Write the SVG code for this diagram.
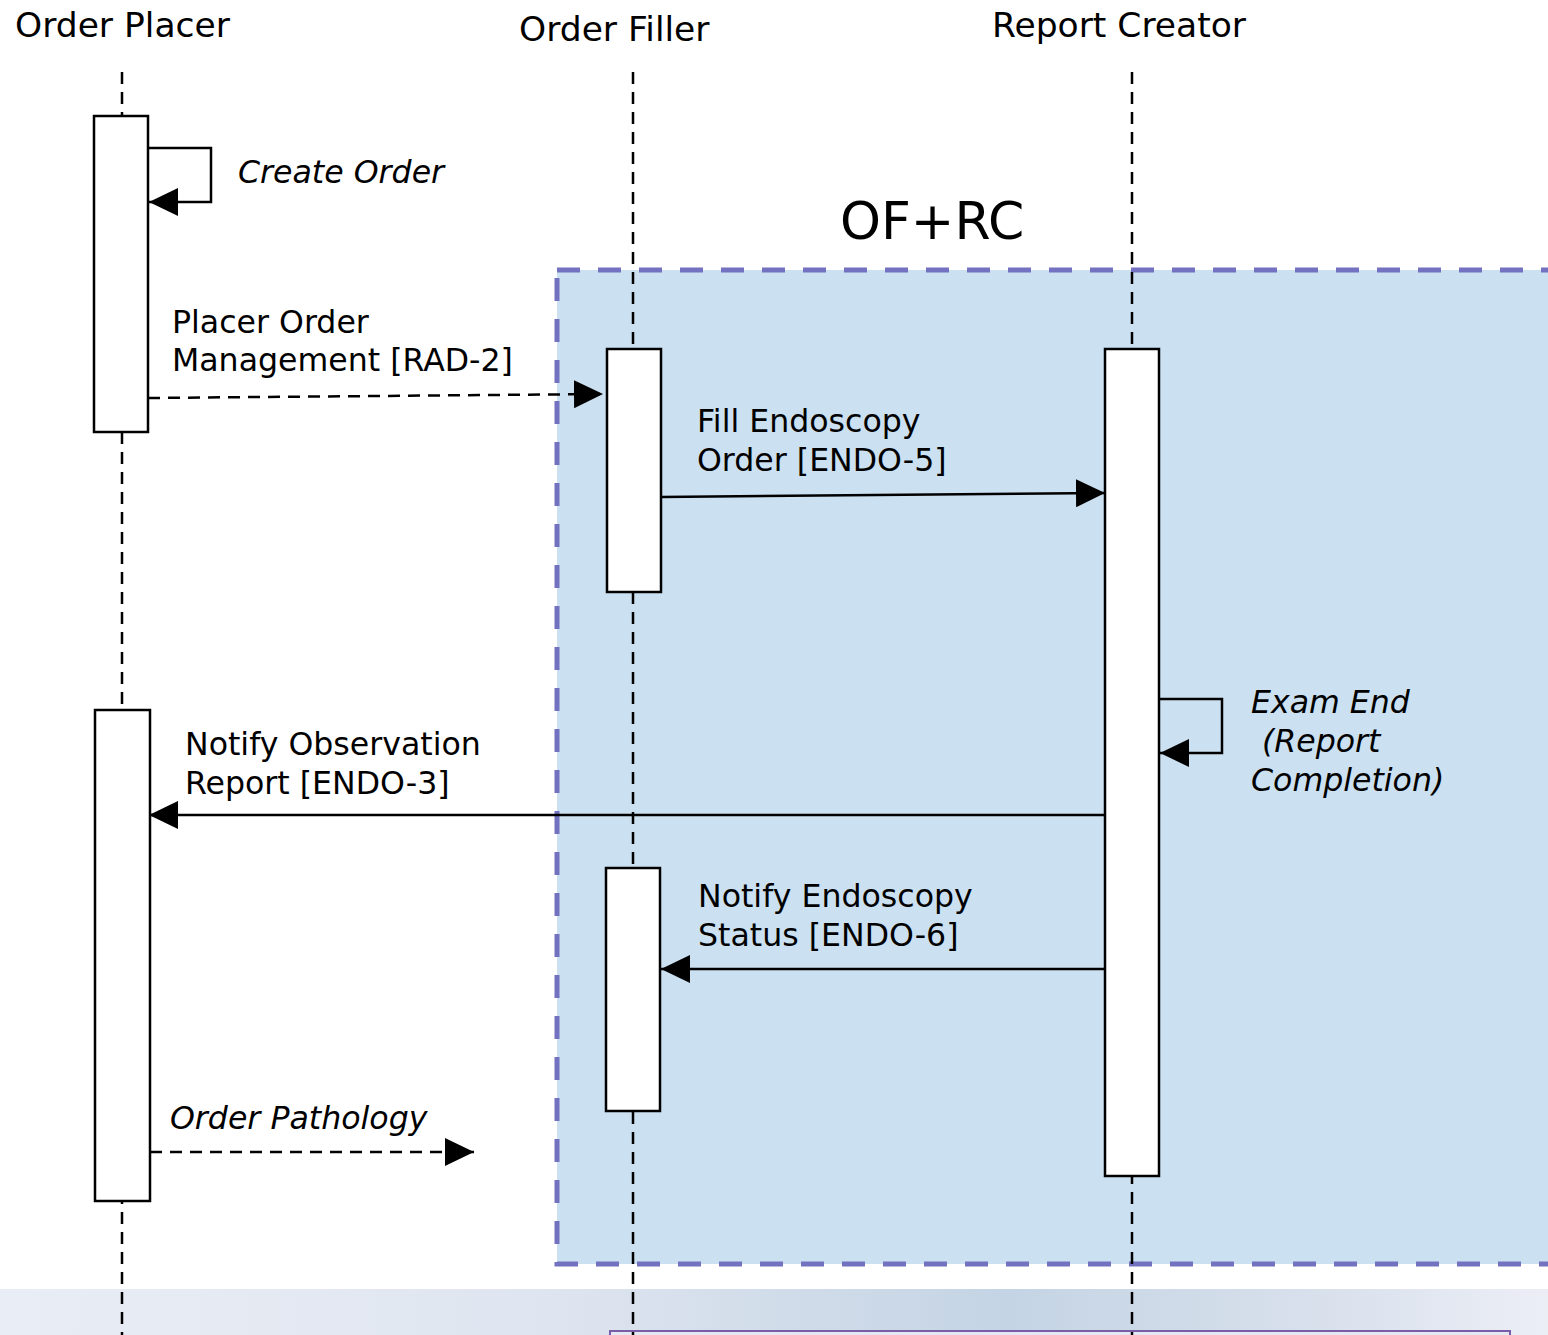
<svg xmlns="http://www.w3.org/2000/svg" width="1548" height="1335" viewBox="0 0 1548 1335">
<defs>
<style>
text{font-family:"DejaVu Sans","Verdana",sans-serif;fill:#000}
.hdr{font-size:34.5px}
.lbl{font-size:31.6px}
.it{font-size:31.6px;font-style:italic}
.life{stroke:#000;stroke-width:2.5;stroke-dasharray:12 8;fill:none}
.act{fill:#fff;stroke:#000;stroke-width:2.5}
.msg{stroke:#000;stroke-width:2.5;fill:none}
.dash{stroke-dasharray:12 8}
</style>
<marker id="ah" markerWidth="30" markerHeight="28" refX="29" refY="14" orient="auto" markerUnits="userSpaceOnUse">
<path d="M0,0 L29,14 L0,28 Z" fill="#000"/>
</marker>
<linearGradient id="band" x1="0" y1="0" x2="1" y2="0">
<stop offset="0" stop-color="#e9edf5"/>
<stop offset="0.35" stop-color="#dfe5f0"/>
<stop offset="0.65" stop-color="#c4d4e4"/>
<stop offset="0.85" stop-color="#d8e0ec"/>
<stop offset="1" stop-color="#eceef6"/>
</linearGradient>
</defs>
<rect x="0" y="0" width="1548" height="1335" fill="#fff"/>
<rect x="0" y="1289" width="1548" height="46" fill="url(#band)"/>
<rect x="610" y="1331" width="900" height="10" fill="#e4e8f2" stroke="#7a5ca8" stroke-width="2"/>

<g id="group-ofrc">
<rect x="557" y="270" width="1010" height="994" fill="#cbe0f1" stroke="#7272c0" stroke-width="5" stroke-dasharray="23 18"/>
<text x="840" y="239" style="font-size:52px">OF+RC</text>
</g>

<g id="lifelines">
<line class="life" x1="122" y1="72" x2="122" y2="1335"/>
<line class="life" x1="633" y1="72" x2="633" y2="1335"/>
<line class="life" x1="1132" y1="72" x2="1132" y2="1335"/>
</g>

<g id="order-placer">
<text class="hdr" x="15" y="37">Order Placer</text>
<rect class="act" x="94" y="116" width="54" height="316"/>
<rect class="act" x="95" y="710" width="55" height="491"/>
</g>
<g id="order-filler">
<text class="hdr" x="519" y="41">Order Filler</text>
<rect class="act" x="607" y="349" width="54" height="243"/>
<rect class="act" x="606" y="868" width="54" height="243"/>
</g>
<g id="report-creator">
<text class="hdr" x="992" y="37">Report Creator</text>
<rect class="act" x="1105" y="349" width="54" height="827"/>
</g>

<g id="connectors">
<path class="msg" d="M148,148 H211 V202 H149" marker-end="url(#ah)"/>
<path class="msg dash" d="M148,398 L603,394" marker-end="url(#ah)"/>
<path class="msg" d="M661,497 L1105,493" marker-end="url(#ah)"/>
<path class="msg" d="M1159,699 H1222 V753 H1160" marker-end="url(#ah)"/>
<path class="msg" d="M1105,815 H149" marker-end="url(#ah)"/>
<path class="msg" d="M1105,969 H661" marker-end="url(#ah)"/>
<path class="msg dash" d="M150,1152 H474" marker-end="url(#ah)"/>
</g>

<g id="labels">
<text class="it" x="238" y="183">Create Order</text>
<text class="lbl" x="172" y="333">Placer Order</text>
<text class="lbl" x="172" y="371">Management [RAD-2]</text>
<text class="lbl" x="697" y="432">Fill Endoscopy</text>
<text class="lbl" x="697" y="471">Order [ENDO-5]</text>
<text class="it" x="1251" y="713">Exam End</text>
<text class="it" x="1262" y="752">(Report</text>
<text class="it" x="1251" y="791">Completion)</text>
<text class="lbl" x="185" y="755">Notify Observation</text>
<text class="lbl" x="185" y="794">Report [ENDO-3]</text>
<text class="lbl" x="698" y="907">Notify Endoscopy</text>
<text class="lbl" x="698" y="946">Status [ENDO-6]</text>
<text class="it" x="170" y="1129">Order Pathology</text>
</g>
</svg>
